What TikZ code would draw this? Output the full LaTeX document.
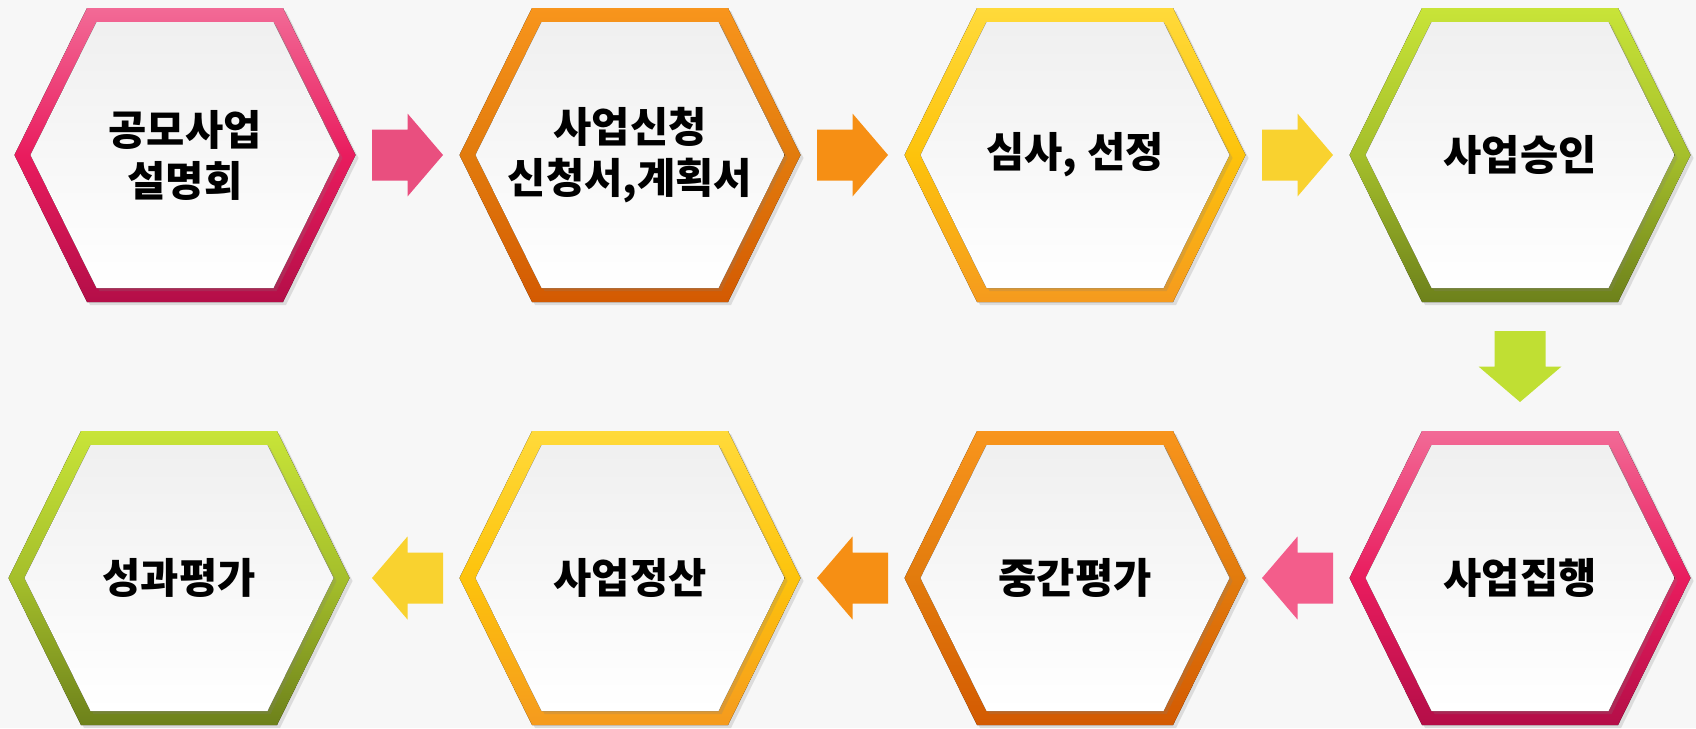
\documentclass[tikz,border=0pt]{standalone}
\usepackage{fontspec}
\newfontfamily\krfont{Noto Sans CJK KR}
\usetikzlibrary{calc,shadows}

\definecolor{bgray}{HTML}{F7F7F7}
\definecolor{pinkT}{HTML}{F26A96}
\definecolor{pinkM}{HTML}{E91C5E}
\definecolor{pinkB}{HTML}{B40E48}
\definecolor{orangeT}{HTML}{F8951C}
\definecolor{orangeM}{HTML}{E27B0D}
\definecolor{orangeB}{HTML}{D35A02}
\definecolor{yellowT}{HTML}{FFDA3A}
\definecolor{yellowM}{HTML}{FDC30C}
\definecolor{yellowB}{HTML}{F59A1E}
\definecolor{greenT}{HTML}{C8E438}
\definecolor{greenM}{HTML}{A5BF2B}
\definecolor{greenB}{HTML}{6D811B}
\definecolor{arrpink}{HTML}{E94F7F}
\definecolor{arrpinklight}{HTML}{F35D8B}
\definecolor{arrorange}{HTML}{F68F14}
\definecolor{arryellow}{HTML}{F9D22F}
\definecolor{arrgreen}{HTML}{C0DF33}

\tikzset{
  pinkhex/.style={top color=pinkT, bottom color=pinkB, middle color=pinkM},
  orangehex/.style={top color=orangeT, bottom color=orangeB, middle color=orangeM},
  yellowhex/.style={top color=yellowT, bottom color=yellowB, middle color=yellowM},
  greenhex/.style={top color=greenT, bottom color=greenB, middle color=greenM},
  panel/.style={top color=black!6, bottom color=white},
  steplabel/.style={font=\krfont\bfseries\fontsize{20.8}{25.5}\selectfont, align=center, inner sep=0pt},
  softshadow/.style={drop shadow={opacity=0.22, shadow xshift=1.5pt, shadow yshift=-1.5pt}}
}

% hexagon with a label: name, centre, colour style, text
\newcommand{\hexstep}[4]{%
  \fill[#3, softshadow, shift={(#2)}]
    (-170.5,0) -- (-98,147) -- (98,147) -- (170.5,0) -- (98,-147) -- (-98,-147) -- cycle;
  \fill[panel, softshadow, shift={(#2)}]
    (-154.5,0) -- (-88.5,133) -- (88.5,133) -- (154.5,0) -- (88.5,-133) -- (-88.5,-133) -- cycle;
  \node[steplabel] (#1) at (#2) {#4};
}

% block arrow: centre, direction, colour
\newcommand{\flowarrow}[3]{%
  \fill[#3, shift={(#1)}, rotate=#2]
    (-35.5,-25.5) -- (0,-25.5) -- (0,-41.5) -- (35.5,0) -- (0,41.5) -- (0,25.5) -- (-35.5,25.5) -- cycle;
}

\begin{document}
\begin{tikzpicture}[x=0.5pt,y=-0.5pt]
  \fill[bgray] (0,0) rectangle (1696,728);

  % first row
  \hexstep{h1}{185,155}{pinkhex}{공모사업\\설명회}
  \hexstep{h2}{630,155}{orangehex}{\fontsize{20.8}{32}\selectfont 사업신청\\신청서,계획서}
  \hexstep{h3}{1075,155}{yellowhex}{심사, 선정}
  \hexstep{h4}{1520,155}{greenhex}{사업승인}

  % second row
  \hexstep{h5}{1520,578}{pinkhex}{사업집행}
  \hexstep{h6}{1075,578}{orangehex}{중간평가}
  \hexstep{h7}{630,578}{yellowhex}{사업정산}
  \hexstep{h8}{179,578}{greenhex}{성과평가}

  \coordinate (a1) at ($(h1)!0.5!(h2)$);
  \coordinate (a2) at ($(h2)!0.5!(h3)$);
  \coordinate (a3) at ($(h3)!0.5!(h4)$);
  \coordinate (a4) at ($(h4)!0.5!(h5)$);
  \coordinate (a5) at (a3 |- h5);
  \coordinate (a6) at (a2 |- h6);
  \coordinate (a7) at (a1 |- h7);

  \flowarrow{a1}{0}{arrpink}
  \flowarrow{a2}{0}{arrorange}
  \flowarrow{a3}{0}{arryellow}
  \flowarrow{a4}{-90}{arrgreen}
  \flowarrow{a5}{180}{arrpinklight}
  \flowarrow{a6}{180}{arrorange}
  \flowarrow{a7}{180}{arryellow}
\end{tikzpicture}
\end{document}
